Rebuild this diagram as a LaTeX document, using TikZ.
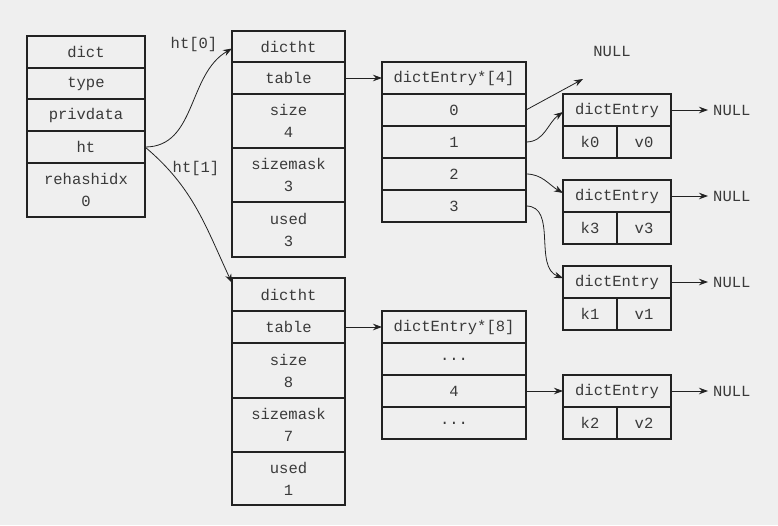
\documentclass[tikz,border=0pt]{standalone}
\usepackage{fontspec}
\newfontfamily\cellfont{Liberation Mono}
\usetikzlibrary{arrows.meta}
\definecolor{bg}{HTML}{EFEFEF}
\definecolor{ln}{HTML}{222222}
\definecolor{tx}{HTML}{3A3A3A}
\begin{document}
\begin{tikzpicture}[x=1pt,y=-1pt,
  cell/.style={draw=ln, line width=1.1pt, text=tx, font=\cellfont\fontsize{15.5}{22}\selectfont,
    align=center, inner sep=0pt, outer sep=0pt, anchor=north west},
  cw/.style={minimum width=#1pt},
  ch/.style={minimum height=#1pt},
  lab/.style={text=tx, font=\cellfont\fontsize{15.5}{22}\selectfont, inner sep=0pt},
  arr/.style={draw=ln, line width=0.8pt, -{Stealth[length=9pt,width=6.5pt]}}]
\fill[bg] (0,0) rectangle (778,525);
\useasboundingbox (0,0) rectangle (778,525);
% dict
\node[cell,cw=118,ch=32] (dict) at (27,36) {dict};
\node[cell,cw=118,ch=31] (type) at (27,68) {type};
\node[cell,cw=118,ch=32] (priv) at (27,99) {privdata};
\node[cell,cw=118,ch=32] (ht) at (27,131) {ht};
\node[cell,cw=118,ch=54] (rehash) at (27,163) {rehashidx\\0};
% dictht 0
\node[cell,cw=113,ch=31] (d0h) at (232,31) {dictht};
\node[cell,cw=113,ch=32] (d0t) at (232,62) {table};
\node[cell,cw=113,ch=54] (d0s) at (232,94) {size\\4};
\node[cell,cw=113,ch=54] (d0m) at (232,148) {sizemask\\3};
\node[cell,cw=113,ch=55] (d0u) at (232,202) {used\\3};
% array 4
\node[cell,cw=144,ch=32] (a4h) at (382,62) {dictEntry*[4]};
\node[cell,cw=144,ch=32] (a40) at (382,94) {0};
\node[cell,cw=144,ch=32] (a41) at (382,126) {1};
\node[cell,cw=144,ch=32] (a42) at (382,158) {2};
\node[cell,cw=144,ch=32] (a43) at (382,190) {3};
% entries
\node[cell,cw=108,ch=32] (e0h) at (563,94) {dictEntry};
\node[cell,cw=54,ch=32] (e0k) at (563,126) {k0};
\node[cell,cw=54,ch=32] (e0v) at (617,126) {v0};
\node[cell,cw=108,ch=32] (e3h) at (563,180) {dictEntry};
\node[cell,cw=54,ch=32] (e3k) at (563,212) {k3};
\node[cell,cw=54,ch=32] (e3v) at (617,212) {v3};
\node[cell,cw=108,ch=32] (e1h) at (563,266) {dictEntry};
\node[cell,cw=54,ch=32] (e1k) at (563,298) {k1};
\node[cell,cw=54,ch=32] (e1v) at (617,298) {v1};
\node[cell,cw=108,ch=32] (e2h) at (563,375) {dictEntry};
\node[cell,cw=54,ch=32] (e2k) at (563,407) {k2};
\node[cell,cw=54,ch=32] (e2v) at (617,407) {v2};
% dictht 1
\node[cell,cw=113,ch=33] (d1h) at (232,278) {dictht};
\node[cell,cw=113,ch=32] (d1t) at (232,311) {table};
\node[cell,cw=113,ch=55] (d1s) at (232,343) {size\\8};
\node[cell,cw=113,ch=54] (d1m) at (232,398) {sizemask\\7};
\node[cell,cw=113,ch=53] (d1u) at (232,452) {used\\1};
% array 8
\node[cell,cw=144,ch=32] (a8h) at (382,311) {dictEntry*[8]};
\node[cell,cw=144,ch=32] (a8a) at (382,343) {...};
\node[cell,cw=144,ch=32] (a84) at (382,375) {4};
\node[cell,cw=144,ch=32] (a8b) at (382,407) {...};
% labels
\node[lab] (l0) at (194,44) {ht[0]};
\node[lab] (l1) at (196,168) {ht[1]};
\node[lab] (ntop) at (612,51) {NULL};
\coordinate (ntip) at (583,79);
\node[lab,anchor=west] (n0) at (713,110) {NULL};
\node[lab,anchor=west] (n3) at (713,196) {NULL};
\node[lab,anchor=west] (n1) at (713,282) {NULL};
\node[lab,anchor=west] (n2) at (713,391) {NULL};
% connectors
\draw[arr] (ht.east) to[out=0,in=210] ([yshift=-2pt]d0h.west);
\draw[arr] (ht.east) to[out=-40,in=115] ([yshift=-5pt]d1h.north west);
\draw[arr] (d0t.east) -- (a4h.west);
\draw[arr] (d1t.east) -- (a8h.west);
\draw[arr] (a40.east) -- (ntip);
\draw[arr] (a41.east) to[out=0,in=215] ([yshift=-2pt]e0h.west);
\draw[arr] (a42.east) to[out=0,in=150] ([yshift=3pt]e3h.west);
\draw[arr] (a43.east) to[out=0,in=160] ([yshift=4pt]e1h.west);
\draw[arr] (a84.east) -- (e2h.west);
\draw[arr,shorten >=5pt] (e0h.east) -- (n0.west);
\draw[arr,shorten >=5pt] (e3h.east) -- (n3.west);
\draw[arr,shorten >=5pt] (e1h.east) -- (n1.west);
\draw[arr,shorten >=5pt] (e2h.east) -- (n2.west);
\end{tikzpicture}
\end{document}
